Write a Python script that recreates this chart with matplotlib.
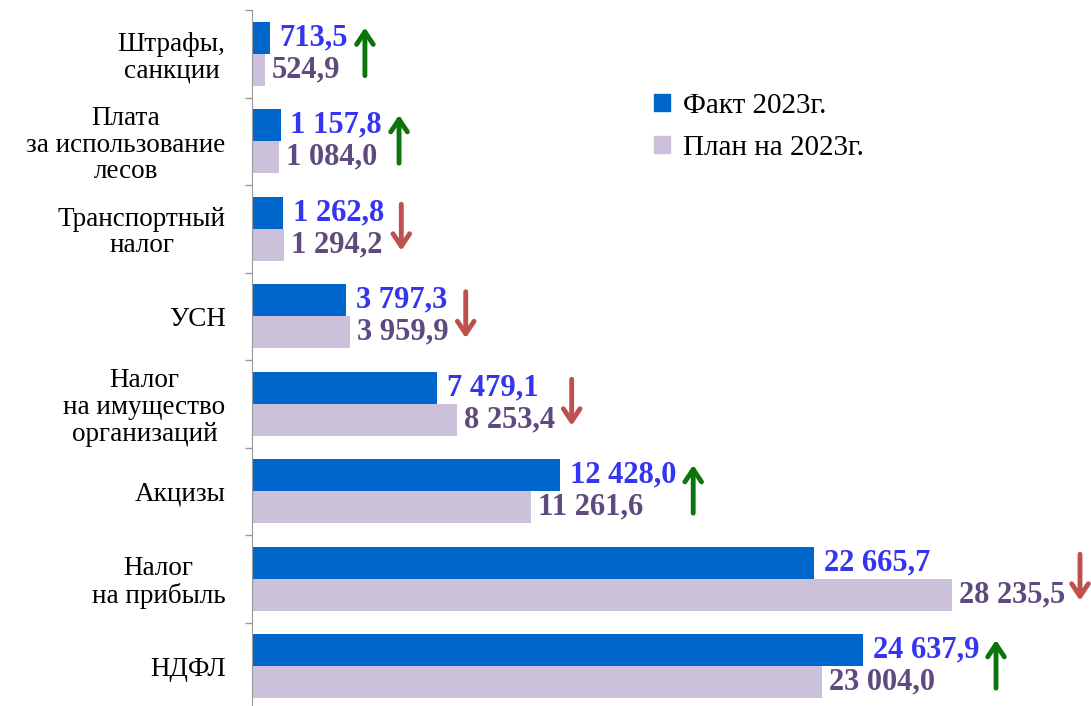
import matplotlib
matplotlib.use('Agg')
import matplotlib.pyplot as plt
from matplotlib.patches import Patch
import numpy as np

plt.rcParams['font.family'] = ['Liberation Serif', 'DejaVu Serif']

categories = ["НДФЛ", "Налог\nна прибыль", "Акцизы", "Налог\nна имущество\nорганизаций",
              "УСН", "Транспортный\nналог", "Плата\nза использование\nлесов", "Штрафы,\nсанкции"]
fact = [24637.9, 22665.7, 12428.0, 7479.1, 3797.3, 1262.8, 1157.8, 713.5]
plan = [23004.0, 28235.5, 11261.6, 8253.4, 3959.9, 1294.2, 1084.0, 524.9]
series_names = ["Факт 2023г.", "План на 2023г."]

FACT_C = '#0066CC'
PLAN_C = '#CCC1DA'
FACT_TXT = '#3535F0'
PLAN_TXT = '#5E4A7E'
UP_C = '#0B750B'
DOWN_C = '#C0504D'


def fmt(v):
    return f"{v:,.1f}".replace(",", " ").replace(".", ",")


W, H = 1091, 706
fig = plt.figure(figsize=(W / 100, H / 100), dpi=100)
ax = fig.add_axes([252 / W, -4 / H, (W - 252) / W, 700 / H])

y = np.arange(len(categories))
bh = 0.366
ax.barh(y + bh / 2, fact, height=bh, color=FACT_C)
ax.barh(y - bh / 2, plan, height=bh, color=PLAN_C)

ax.set_xlim(0, 33843)
ax.set_ylim(-0.5, len(categories) - 0.5)

for s in ['top', 'right', 'bottom']:
    ax.spines[s].set_visible(False)
ax.spines['left'].set_color('#999999')
ax.set_xticks([])
ax.set_yticks(y)
ax.set_yticklabels(categories, fontsize=19.5, multialignment='center', linespacing=1.08)
ax.tick_params(axis='y', which='major', length=0, pad=19)
ax.set_yticks(np.arange(len(categories) + 1) - 0.5, minor=True)
ax.tick_params(axis='y', which='minor', length=5, color='#999999', width=1)

fact_txt = []
plan_txt = []
for i in range(len(categories)):
    t1 = ax.annotate(fmt(fact[i]), (fact[i], i + bh / 2), xytext=(7, 0), textcoords='offset points',
                     ha='left', va='center', fontsize=22, fontweight='bold', color=FACT_TXT)
    t2 = ax.annotate(fmt(plan[i]), (plan[i], i - bh / 2), xytext=(5, 0), textcoords='offset points',
                     ha='left', va='center', fontsize=22, fontweight='bold', color=PLAN_TXT)
    fact_txt.append(t1)
    plan_txt.append(t2)

handles = [Patch(color=FACT_C), Patch(color=PLAN_C)]
fig.legend(handles, series_names, loc='upper left', bbox_to_anchor=(645 / W, 1 - 84 / H),
           frameon=False, fontsize=21, handlelength=0.55, handleheight=0.5,
           handletextpad=0.45, labelspacing=0.55, borderaxespad=0, borderpad=0.3)

fig.canvas.draw()
r = fig.canvas.get_renderer()
inv = ax.transData.inverted()
for i in range(len(categories)):
    xmax = max(fact_txt[i].get_window_extent(r).x1, plan_txt[i].get_window_extent(r).x1)
    xd = inv.transform((min(xmax + 17, W - 11), 0))[0]
    if fact[i] >= plan[i]:
        start, end, c = (xd, i - 0.25), (xd, i + 0.3), UP_C
    else:
        start, end, c = (xd, i + 0.28), (xd, i - 0.25), DOWN_C
    ax.annotate('', xy=end, xytext=start, annotation_clip=False,
                arrowprops=dict(arrowstyle='->,head_length=0.45,head_width=0.3',
                                color=c, lw=3.5, mutation_scale=20, shrinkA=0, shrinkB=0))

fig.savefig('out.png', dpi=100)
